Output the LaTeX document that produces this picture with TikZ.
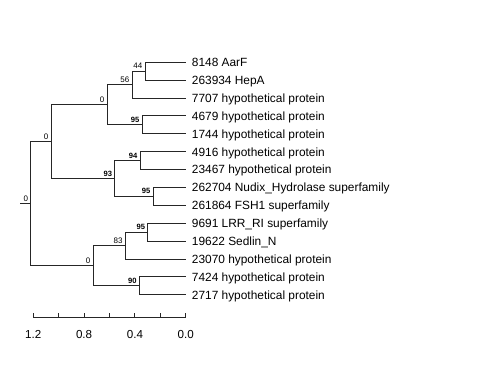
\documentclass[tikz,border=0pt]{standalone}
\usepackage{fontspec}
\setmainfont{Liberation Sans}
\begin{document}
\begin{tikzpicture}[x=1pt,y=-1pt,
  branch/.style={draw=black!85,line width=0.9pt},
  leaflab/.style={anchor=base west,inner sep=0pt,font=\fontsize{11.9}{13}\selectfont},
  bslab/.style={anchor=base east,inner sep=0pt,font=\fontsize{8}{9}\selectfont},
  bsbold/.style={bslab,font=\fontsize{7.6}{9}\selectfont\bfseries},
  axlab/.style={anchor=base,inner sep=0pt,font=\fontsize{11.6}{13}\selectfont}]
\useasboundingbox (0,0) rectangle (480,384);
% leaf tips
\coordinate (t1) at (186,62.3);
\coordinate (t2) at (186,80.2);
\coordinate (t3) at (186,98.1);
\coordinate (t4) at (186,115.9);
\coordinate (t5) at (186,133.8);
\coordinate (t6) at (186,151.7);
\coordinate (t7) at (186,169.6);
\coordinate (t8) at (186,187.5);
\coordinate (t9) at (186,205.3);
\coordinate (t10) at (186,223.2);
\coordinate (t11) at (186,241.1);
\coordinate (t12) at (186,259.0);
\coordinate (t13) at (186,276.9);
\coordinate (t14) at (186,294.7);
% internal nodes
\coordinate (a1a1) at (145,71.25);
\coordinate (a1a) at (132,84.7);
\coordinate (a1b) at (142,124.85);
\coordinate (a1) at (107,104.8);
\coordinate (a2a) at (140,160.65);
\coordinate (a2b) at (153,196.4);
\coordinate (a2) at (114.7,178.5);
\coordinate (a) at (51,141.65);
\coordinate (b1a) at (147.7,232.15);
\coordinate (b1) at (125.3,245.6);
\coordinate (b2) at (139.3,285.8);
\coordinate (b) at (93,265.7);
\coordinate (root) at (30.7,203.7);
\coordinate (stub) at (20,203.7);
% branches
\draw[branch] (stub) -- (root);
\draw[branch] (root) |- (a);
\draw[branch] (root) |- (b);
\draw[branch] (a) |- (a1);
\draw[branch] (a) |- (a2);
\draw[branch] (a1) |- (a1a);
\draw[branch] (a1) |- (a1b);
\draw[branch] (a1a) |- (a1a1);
\draw[branch] (a1a) |- (t3);
\draw[branch] (a1a1) |- (t1);
\draw[branch] (a1a1) |- (t2);
\draw[branch] (a1b) |- (t4);
\draw[branch] (a1b) |- (t5);
\draw[branch] (a2) |- (a2a);
\draw[branch] (a2) |- (a2b);
\draw[branch] (a2a) |- (t6);
\draw[branch] (a2a) |- (t7);
\draw[branch] (a2b) |- (t8);
\draw[branch] (a2b) |- (t9);
\draw[branch] (b) |- (b1);
\draw[branch] (b) |- (b2);
\draw[branch] (b1) |- (b1a);
\draw[branch] (b1) |- (t12);
\draw[branch] (b1a) |- (t10);
\draw[branch] (b1a) |- (t11);
\draw[branch] (b2) |- (t13);
\draw[branch] (b2) |- (t14);
% leaf labels
\node[leaflab] (l1) at ([xshift=5.7pt,yshift=-4.3pt]t1) {8148 AarF};
\node[leaflab] (l2) at ([xshift=5.7pt,yshift=-4.3pt]t2) {263934 HepA};
\node[leaflab] (l3) at ([xshift=5.7pt,yshift=-4.3pt]t3) {7707 hypothetical protein};
\node[leaflab] (l4) at ([xshift=5.7pt,yshift=-4.3pt]t4) {4679 hypothetical protein};
\node[leaflab] (l5) at ([xshift=5.7pt,yshift=-4.3pt]t5) {1744 hypothetical protein};
\node[leaflab] (l6) at ([xshift=5.7pt,yshift=-4.3pt]t6) {4916 hypothetical protein};
\node[leaflab] (l7) at ([xshift=5.7pt,yshift=-4.3pt]t7) {23467 hypothetical protein};
\node[leaflab] (l8) at ([xshift=5.7pt,yshift=-4.3pt]t8) {262704 Nudix\_Hydrolase superfamily};
\node[leaflab] (l9) at ([xshift=5.7pt,yshift=-4.3pt]t9) {261864 FSH1 superfamily};
\node[leaflab] (l10) at ([xshift=5.7pt,yshift=-4.3pt]t10) {9691 LRR\_RI superfamily};
\node[leaflab] (l11) at ([xshift=5.7pt,yshift=-4.3pt]t11) {19622 Sedlin\_N};
\node[leaflab] (l12) at ([xshift=5.7pt,yshift=-4.3pt]t12) {23070 hypothetical protein};
\node[leaflab] (l13) at ([xshift=5.7pt,yshift=-4.3pt]t13) {7424 hypothetical protein};
\node[leaflab] (l14) at ([xshift=5.7pt,yshift=-4.3pt]t14) {2717 hypothetical protein};
% support labels
\node[bslab] (s1) at ([xshift=-2.5pt,yshift=2.5pt]a1a1) {44};
\node[bslab] (s2) at ([xshift=-2.5pt,yshift=2.5pt]a1a) {56};
\node[bslab] (s3) at ([xshift=-2.5pt,yshift=2.5pt]a1) {0};
\node[bsbold] (s4) at ([xshift=-2.5pt,yshift=2.5pt]a1b) {95};
\node[bslab] (s5) at ([xshift=-2.5pt,yshift=2.5pt]a) {0};
\node[bsbold] (s6) at ([xshift=-2.5pt,yshift=2.5pt]a2a) {94};
\node[bsbold] (s7) at ([xshift=-2.5pt,yshift=2.5pt]a2) {93};
\node[bsbold] (s8) at ([xshift=-2.5pt,yshift=2.5pt]a2b) {95};
\node[bslab] (s9) at ([xshift=-2.5pt,yshift=2.5pt]root) {0};
\node[bsbold] (s10) at ([xshift=-2.5pt,yshift=2.5pt]b1a) {95};
\node[bslab] (s11) at ([xshift=-2.5pt,yshift=2.5pt]b1) {83};
\node[bslab] (s12) at ([xshift=-2.5pt,yshift=2.5pt]b) {0};
\node[bsbold] (s13) at ([xshift=-2.5pt,yshift=2.5pt]b2) {90};
% axis
\coordinate (ax0) at (33.3,317.3);
\coordinate (ax1) at (185.7,317.3);
\draw[branch] (ax0) -- (ax1);
\foreach \i/\lab in {0/1.2,1/,2/0.8,3/,4/0.4,5/,6/0.0}{
  \coordinate (tk\i) at ({33.3+25.4*\i},317.3);
  \draw[branch] (tk\i) -- ++(0,-4.6);
  \node[axlab] (al\i) at ([yshift=-21.2pt]tk\i) {\lab};
}
\end{tikzpicture}
\end{document}
